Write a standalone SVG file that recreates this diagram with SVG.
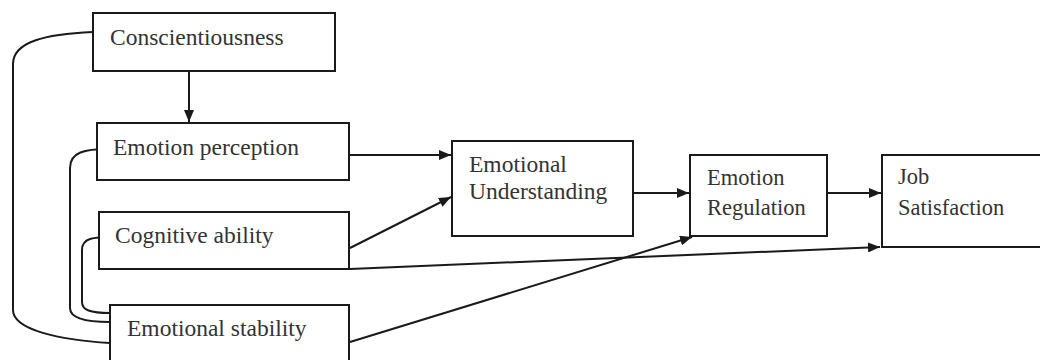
<svg xmlns="http://www.w3.org/2000/svg" width="1040" height="360" viewBox="0 0 1040 360">
<defs>
<marker id="ah" viewBox="0 0 12 10" refX="12" refY="5" markerWidth="12" markerHeight="10" markerUnits="userSpaceOnUse" orient="auto">
<path d="M0,0 L12,5 L0,10 Z" fill="#1a1a1a"/>
</marker>
</defs>
<style>
.box{fill:#fff;stroke:#1a1a1a;stroke-width:2}
text{font-family:'Liberation Serif','Times New Roman',Times,serif;font-size:23.5px;fill:#333}
.s{font-size:22.5px}
.c{fill:none;stroke:#1a1a1a;stroke-width:2}
.a{fill:none;stroke:#1a1a1a;stroke-width:2;marker-end:url(#ah)}
</style>
<rect width="1040" height="360" fill="#fff"/>
<g id="connectors">
<path class="a" d="M189,71 L189,122"/>
<path class="a" d="M349,155 L451,155"/>
<path class="a" d="M350,248 L451,197"/>
<path class="a" d="M350,269 L880,247"/>
<path class="a" d="M350,342 L692,237"/>
<path class="a" d="M633,193 L689,193"/>
<path class="a" d="M827,193 L881,193"/>
<path class="c" d="M93,32 C45,34 13,42 13,64 L13,310 C13,330 60,340 110,343"/>
<path class="c" d="M108,149 C85,149 70,152 70,168 L70,308 C70,318 85,322 110,322"/>
<path class="c" d="M113,237 C93,237 82,238 82,250 L82,302 C82,310 90,313 110,313"/>
</g>
<g id="conscientiousness">
<rect class="box" x="93" y="13" width="242" height="58"/>
<text x="110" y="45" font-family="Liberation Serif, serif">Conscientiousness</text>
</g>
<g id="emotion-perception">
<rect class="box" x="97" y="123" width="252" height="57"/>
<text x="113" y="155" font-family="Liberation Serif, serif">Emotion perception</text>
</g>
<g id="cognitive-ability">
<rect class="box" x="99" y="212" width="250" height="57"/>
<text x="115" y="243" font-family="Liberation Serif, serif">Cognitive ability</text>
</g>
<g id="emotional-stability">
<rect class="box" x="110" y="305" width="239" height="62"/>
<text x="127" y="336" font-family="Liberation Serif, serif">Emotional stability</text>
</g>
<g id="emotional-understanding">
<rect class="box" x="452" y="141" width="181" height="95"/>
<text x="469" y="172" font-family="Liberation Serif, serif">Emotional</text>
<text x="469" y="199" font-family="Liberation Serif, serif">Understanding</text>
</g>
<g id="emotion-regulation">
<rect class="box" x="690" y="155" width="137" height="81"/>
<text class="s" x="707" y="185" font-family="Liberation Serif, serif">Emotion</text>
<text class="s" x="707" y="215" font-family="Liberation Serif, serif">Regulation</text>
</g>
<g id="job-satisfaction">
<rect class="box" x="882" y="155" width="170" height="92"/>
<text class="s" x="898" y="184" font-family="Liberation Serif, serif">Job</text>
<text class="s" x="898" y="215" font-family="Liberation Serif, serif">Satisfaction</text>
</g>
</svg>
